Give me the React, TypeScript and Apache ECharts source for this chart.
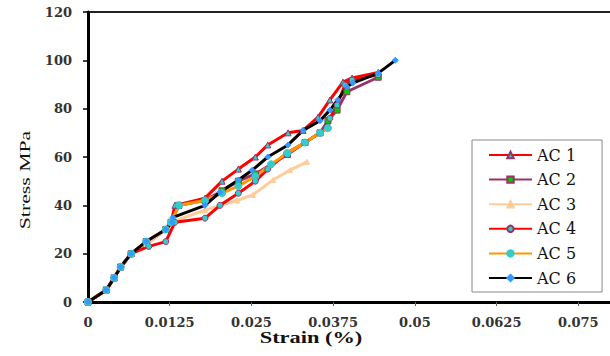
import React, { useEffect, useRef } from "react";
import * as echarts from "echarts";

const seriesNames = ["AC 1", "AC 2", "AC 3", "AC 4", "AC 5", "AC 6"];

const xTickLabels = ["0", "0.0125", "0.025", "0.0375", "0.05", "0.0625", "0.075"];
const yTickLabels = ["0", "20", "40", "60", "80", "100", "120"];

const ac1: [number, number][] = [
  [0, 0], [0.0028, 5], [0.004, 10], [0.005, 14.5], [0.0066, 20], [0.0089, 24], [0.0119, 30],
  [0.0128, 34], [0.0133, 40], [0.0179, 43], [0.0205, 50], [0.023, 55], [0.0256, 60],
  [0.0275, 65], [0.0306, 70], [0.0329, 71], [0.0352, 76.5], [0.037, 83.6], [0.039, 91],
  [0.0404, 92.7], [0.0444, 95],
];
const ac2: [number, number][] = [
  [0, 0], [0.0028, 5], [0.004, 10], [0.005, 14.5], [0.0066, 20], [0.0089, 25], [0.0119, 30],
  [0.0127, 33], [0.0139, 40], [0.0179, 42], [0.0205, 46], [0.023, 50], [0.0256, 53],
  [0.0305, 61], [0.0332, 66], [0.0355, 70], [0.0367, 75], [0.0381, 79.4], [0.0396, 87],
  [0.0444, 93],
];
const ac3: [number, number][] = [
  [0, 0], [0.0028, 5], [0.004, 10], [0.005, 14.5], [0.0066, 20], [0.0089, 24], [0.0119, 30],
  [0.0127, 33], [0.0179, 38], [0.0228, 42], [0.0252, 44.3], [0.0283, 50.5], [0.0309, 54.6],
  [0.0335, 58],
];
const ac4: [number, number][] = [
  [0, 0], [0.0028, 5], [0.004, 10], [0.005, 14.5], [0.0066, 20], [0.0093, 23], [0.0119, 25],
  [0.0133, 33], [0.0179, 34.7], [0.0202, 40], [0.023, 45], [0.0256, 50], [0.0275, 55],
  [0.0304, 61.6], [0.0332, 66], [0.0355, 70], [0.0367, 72], [0.037, 76], [0.0381, 81.5],
  [0.0393, 89.8], [0.0404, 91.8], [0.0444, 94],
];
const ac5: [number, number][] = [
  [0, 0], [0.0028, 5], [0.004, 10], [0.005, 14.5], [0.0066, 20], [0.0089, 25], [0.0119, 30],
  [0.0127, 33], [0.0139, 40], [0.0179, 42], [0.0205, 45], [0.023, 48], [0.0256, 52],
  [0.028, 57], [0.0305, 61.6], [0.0332, 66], [0.0355, 70], [0.0367, 72],
];
const ac6: [number, number][] = [
  [0, 0], [0.0028, 5], [0.004, 10], [0.005, 14.5], [0.0066, 20], [0.0089, 25], [0.0119, 30],
  [0.0129, 33], [0.013, 35], [0.0179, 40], [0.0202, 45.5], [0.023, 50.5], [0.0251, 54.5],
  [0.0275, 60], [0.0306, 65], [0.0329, 71], [0.0355, 75], [0.037, 79.4], [0.0382, 83.6],
  [0.0396, 89], [0.0405, 90.6], [0.0444, 94.7], [0.047, 100],
];

const seriesData = [ac1, ac2, ac3, ac4, ac5, ac6];

const styles = [
  { line: "#ff0000", symbol: "triangle", size: 6, fill: "#33cccc", border: "#993366" },
  { line: "#993366", symbol: "rect", size: 6, fill: "#00cc00", border: "#993366" },
  { line: "#ffcc99", symbol: "triangle", size: 5, fill: "#ffcc99", border: "#ffcc99" },
  { line: "#ff0000", symbol: "circle", size: 6, fill: "#33cccc", border: "#993366" },
  { line: "#ff9900", symbol: "circle", size: 7, fill: "#33cccc", border: "#33cccc" },
  { line: "#000000", symbol: "diamond", size: 6, fill: "#3399ff", border: "#3399ff" },
];

export default function App() {
  const ref = useRef<HTMLDivElement>(null);
  useEffect(() => {
    if (!ref.current) return;
    const chart = echarts.init(ref.current, undefined, { renderer: "svg" });
    const labelFont = {
      fontFamily: "DejaVu Serif",
      fontWeight: "bold" as const,
      fontSize: 13,
      color: "#333",
    };
    chart.setOption({
      animation: false,
      backgroundColor: "#ffffff",
      grid: {
        left: 88,
        top: 12,
        width: 572,
        height: 290,
        outerBoundsMode: "none",
        containLabel: false,
        show: true,
        borderColor: "#222",
        borderWidth: 2,
        backgroundColor: "transparent",
      },
      xAxis: {
        type: "value",
        min: 0,
        max: 0.0875,
        interval: 0.0125,
        splitLine: { show: false },
        axisLine: { show: true, lineStyle: { color: "#000", width: 3 } },
        axisTick: { show: true, length: 4, lineStyle: { color: "#666", width: 1 } },
        axisLabel: {
          ...labelFont,
          margin: 14,
          formatter: (v: number) => xTickLabels[Math.round(v / 0.0125)] ?? "",
        },
      },
      yAxis: {
        type: "value",
        min: 0,
        max: 120,
        interval: 20,
        splitLine: { show: false },
        axisLine: { show: true, lineStyle: { color: "#000", width: 3 } },
        axisTick: { show: true, length: 5, lineStyle: { color: "#000", width: 1.5 } },
        axisLabel: {
          ...labelFont,
          margin: 16,
          formatter: (v: number) => yTickLabels[Math.round(v / 20)] ?? "",
        },
      },
      legend: {
        orient: "vertical",
        left: 472,
        top: 140,
        padding: [7, 26, 6, 16],
        itemWidth: 43,
        itemHeight: 8,
        itemGap: 8.6,
        borderColor: "#888",
        borderWidth: 1,
        backgroundColor: "#fff",
        textStyle: { fontFamily: "DejaVu Serif", fontSize: 16, color: "#111" },
        data: seriesNames,
      },
      graphic: [
        {
          type: "text",
          x: 25,
          y: 180,
          rotation: Math.PI / 2,
          scaleX: 1.45,
          style: {
            text: "Stress MPa",
            font: "15px 'Liberation Serif'",
            fill: "#111",
            align: "center",
            verticalAlign: "middle",
          },
        },
        {
          type: "text",
          x: 311,
          y: 338,
          scaleX: 1.4,
          style: {
            text: "Strain (%)",
            font: "bold 16px 'Liberation Serif'",
            fill: "#111",
            align: "center",
            verticalAlign: "middle",
          },
        },
      ],
      series: seriesNames.map((name, i) => ({
        name,
        type: "line",
        data: seriesData[i],
        symbol: styles[i].symbol,
        symbolSize: styles[i].size,
        showSymbol: true,
        lineStyle: { color: styles[i].line, width: 3 },
        itemStyle: { color: styles[i].fill, borderColor: styles[i].border, borderWidth: 1 },
        emphasis: { disabled: true },
      })),
    });
    return () => chart.dispose();
  }, []);
  return (
    <div
      ref={ref}
      style={{ position: "fixed", left: 0, top: 0, width: 610, height: 356 }}
    />
  );
}
